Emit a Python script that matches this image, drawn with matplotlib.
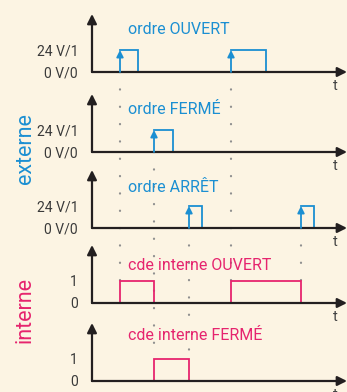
import matplotlib
matplotlib.use('Agg')
import matplotlib.pyplot as plt
from matplotlib.patches import ConnectionPatch

plt.rcParams['font.family'] = ['Roboto', 'DejaVu Sans']

# pulse edges (time units), one list of (start, end) per trace
ordre_ouvert = [(2.8, 4.6), (13.9, 17.4)]
ordre_ferme = [(6.2, 8.1)]
ordre_arret = [(9.7, 11.0), (20.9, 22.2)]
cde_ouvert = [(2.8, 6.2), (13.9, 20.9)]
cde_ferme = [(6.2, 9.7)]

titles = ['ordre OUVERT', 'ordre FERMÉ', 'ordre ARRÊT',
          'cde interne OUVERT', 'cde interne FERMÉ']
ext_ticks = ['0 V/0', '24 V/1']
int_ticks = ['0', '1']

BG = '#fcf4e3'
BLUE = '#1b8fd2'
PINK = '#e6246e'
INK = '#231f20'
DOT = '#8f8f8f'

W, H = 347, 392
fig = plt.figure(figsize=(W / 100, H / 100), dpi=100, facecolor=BG)

baselines = [72, 152, 228, 303, 381]   # pixel rows of the time axes
label_rise = [42, 43, 40, 37, 45]      # title height above baseline (px)
level_px = 22.0
top_px = 58.0
x0, x1 = 92, 347
tmax = (x1 - x0) / 10.0


def make_axes(base):
    ax = fig.add_axes([x0 / W, (H - base) / H, (x1 - x0) / W, top_px / H])
    ax.set_xlim(0, tmax)
    ax.set_ylim(0, top_px / level_px)
    ax.patch.set_visible(False)
    for s in ax.spines.values():
        s.set_visible(False)
    ax.set_xticks([])
    # axes with arrow heads
    ax.annotate('', xy=(tmax, 0), xytext=(0, 0), annotation_clip=False,
                arrowprops=dict(arrowstyle='-|>', color=INK, lw=1.6,
                                shrinkA=0, shrinkB=0, mutation_scale=14))
    ax.annotate('', xy=(0, top_px / level_px), xytext=(0, 0), annotation_clip=False,
                arrowprops=dict(arrowstyle='-|>', color=INK, lw=1.6,
                                shrinkA=0, shrinkB=0, mutation_scale=14))
    ax.text(tmax - 1.2, -0.62, 't', color='#444444', fontsize=10.5,
            ha='center', va='center')
    return ax


def draw_pulses(ax, pulses, color, arrow):
    for a, b in pulses:
        if arrow:
            ax.plot([a, b, b], [1, 1, 0], color=color, lw=1.3, clip_on=False,
                    solid_joinstyle='miter')
            ax.annotate('', xy=(a, 1), xytext=(a, 0), annotation_clip=False,
                        arrowprops=dict(arrowstyle='-|>', color=color, lw=1.3,
                                        shrinkA=0, shrinkB=0, mutation_scale=10))
        else:
            ax.plot([a, a, b, b], [0, 1, 1, 0], color=color, lw=1.3,
                    clip_on=False, solid_joinstyle='miter')


traces = [ordre_ouvert, ordre_ferme, ordre_arret, cde_ouvert, cde_ferme]
axes = []
for i, (base, pulses) in enumerate(zip(baselines, traces)):
    ax = make_axes(base)
    external = i < 3
    color = BLUE if external else PINK
    draw_pulses(ax, pulses, color, external)
    ax.set_yticks([0, 1])
    ax.set_yticklabels(ext_ticks if external else int_ticks)
    ax.tick_params(axis='y', length=0, pad=10, labelsize=10, labelcolor='#3a3a3a')
    ax.text(3.6, label_rise[i] / level_px, titles[i], color=color,
            fontsize=11.5, ha='left', va='center')
    axes.append(ax)


def dotted(t, src, dst):
    con = ConnectionPatch(xyA=(t, 0), coordsA=axes[src].transData,
                          xyB=(t, 1), coordsB=axes[dst].transData,
                          color=DOT, lw=1.6, linestyle=(0, (0.1, 7.7)),
                          capstyle='round', zorder=0)
    fig.add_artist(con)


# ordre -> cde links
dotted(ordre_ouvert[0][0], 0, 3)
dotted(ordre_ouvert[1][0], 0, 3)
dotted(ordre_ferme[0][0], 1, 4)
dotted(ordre_arret[0][0], 2, 4)
dotted(ordre_arret[1][0], 2, 3)

fig.text(25 / W, 1 - 149 / H, 'externe', color=BLUE, fontsize=15.5,
         rotation=90, ha='center', va='center')
fig.text(25 / W, 1 - 310 / H, 'interne', color=PINK, fontsize=15.5,
         rotation=90, ha='center', va='center')

fig.savefig('out.png', dpi=100, facecolor=BG)
